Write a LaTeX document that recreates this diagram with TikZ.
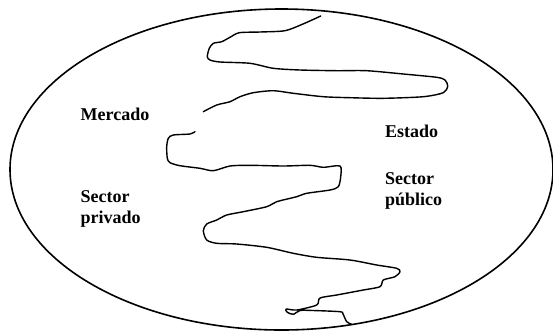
\documentclass[tikz,border=0pt]{standalone}
\usepackage{fontspec}
\setmainfont{Liberation Serif}
\usepackage{tikz}
\usetikzlibrary{positioning}
\tikzset{
  region/.style={
    font=\fontsize{18}{21.5}\selectfont\bfseries,
    anchor=base west, align=left, inner sep=0pt
  },
  border/.style={draw=black, line width=1.6pt},
  frontier/.style={draw=black, line width=1.4pt, line join=round, line cap=round}
}

\begin{document}
\begin{tikzpicture}[x=1pt, y=-1pt]

\useasboundingbox (0,0) rectangle (553,333);

%% ── Outer ellipse ────────────────────────────────────────────
\draw[border] (281.5,169.5) ellipse [x radius=271.5pt, y radius=160.5pt];

%% ── Frontier, upper part ─────────────────────────────────────
\draw[frontier] plot[smooth, tension=0.45] coordinates {
  (320.7,16) (303,24) (285,30.7) (260,32) (239.3,32.7) (230,37.3)
  (221.7,41.7) (213.3,43.3) (209.3,48.3) (207.3,56.7) (210,60)
  (220,62) (250,63.3) (273.3,68.3) (300,70) (336.7,70.7) (366.7,70.7)
  (403.3,74) (436.7,77.3) (445,80) (447.7,86) (443.3,92.7) (423.3,96.7)
  (383.3,98.3) (350,97.7) (323.3,96.7) (293.3,93.3) (273.3,90.7)
  (253.3,92.7) (240,96.7) (230,101.7) (216.7,105) (203.3,111.7)};

%% ── Frontier, lower part ─────────────────────────────────────
\draw[frontier] plot[smooth, tension=0.45] coordinates {
  (195,131.7) (190,134) (173.3,135) (168.3,138.3) (166.7,146.7)
  (167.3,158.3) (170,162.7) (180,165.7) (200,168.3) (213.3,170.7)
  (230,166) (250,165.3) (283.3,166) (310,165.3) (323.3,167.3) (340,166)
  (340.7,176.7) (338.3,186.7) (330,190) (306.7,193.3) (296.7,196.7)
  (276.7,201.7) (266.7,206.7) (243.3,211.7) (226.7,215) (216.7,220)
  (206.7,224) (203.3,230.7) (206.7,240) (216.7,243.3) (236.7,244)
  (266.7,247.3) (293.3,253.3) (316.7,257.3) (350,260) (376.7,265)
  (396.7,268.3) (400,271.7) (395,276.7) (383.3,280) (380,286.7)
  (363.3,290) (336.7,295) (320,298) (316.7,305) (296.7,310) (286,309)
  (287.3,312.3) (293.3,314.3) (300,310.5) (313,310.5) (340,311.7)
  (343,314) (346.7,321.7) (351.7,324.3)};

%% ── Labels ───────────────────────────────────────────────────
\node[region] (mercado) at (80.5,120.5) {Mercado};
\node[region] (privado) at (80.5,223.5) {Sector\\privado};
\node[region] (estado)  at (385,137.5) {Estado};
\node[region] (publico) at (385,205.5) {Sector\\público};

\end{tikzpicture}
\end{document}
